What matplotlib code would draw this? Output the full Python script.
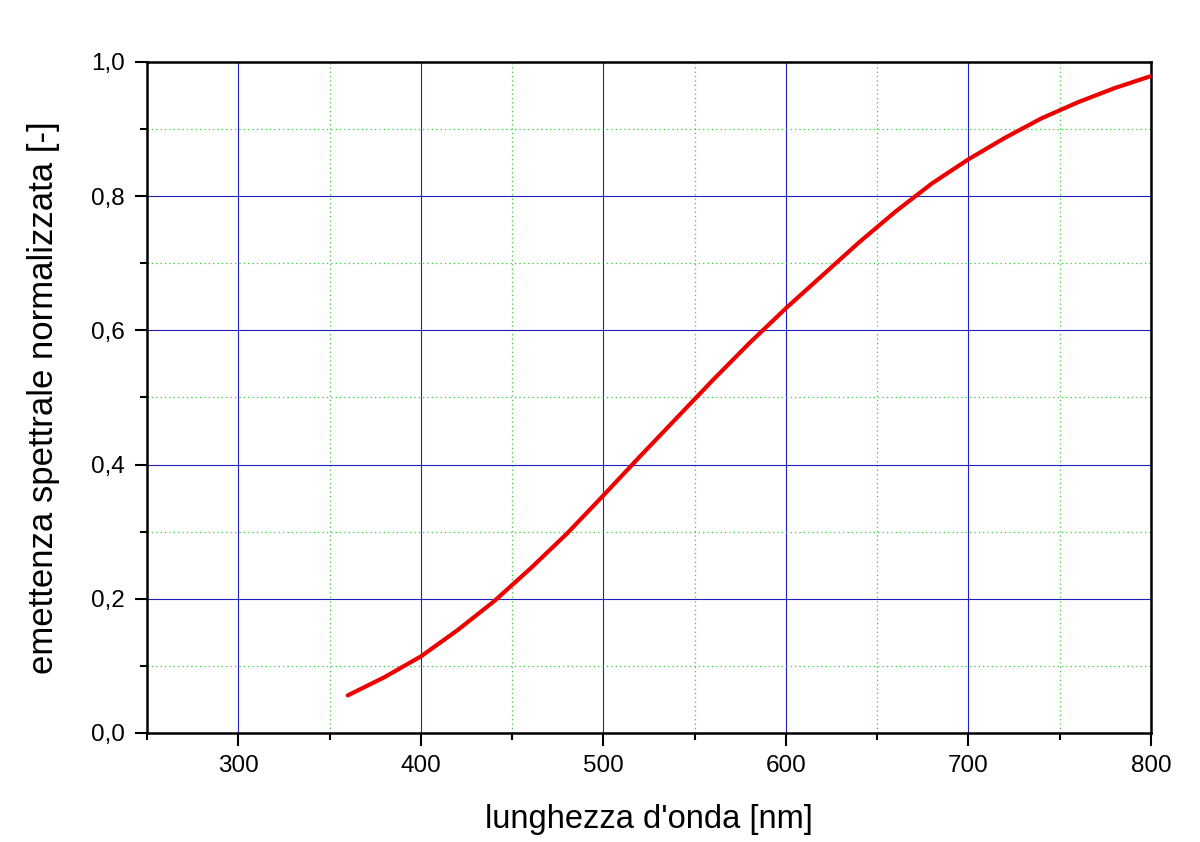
import matplotlib
matplotlib.use('Agg')
import matplotlib.pyplot as plt
from matplotlib.ticker import MultipleLocator, FuncFormatter

# Normalised spectral emittance vs wavelength
wavelength = [360, 380, 400, 420, 440, 460, 480, 500, 520, 540, 560, 580,
              600, 620, 640, 660, 680, 700, 720, 740, 760, 780, 800]
emittance = [0.056, 0.083, 0.114, 0.153, 0.196, 0.245, 0.297, 0.354, 0.412,
             0.469, 0.526, 0.581, 0.633, 0.682, 0.731, 0.777, 0.819, 0.855,
             0.887, 0.916, 0.940, 0.961, 0.979]

plt.rcParams['font.family'] = ['Liberation Sans', 'DejaVu Sans']

fig = plt.figure(figsize=(12, 8.42), dpi=100)
ax = fig.add_axes([0.1225, 0.1295, 0.8367, 0.7969])

ax.plot(wavelength, emittance, color='#ee0000', linewidth=3.0,
        solid_capstyle='round', solid_joinstyle='round', zorder=3)

ax.set_xlim(250, 800)
ax.set_ylim(0, 1.0)
ax.xaxis.set_major_locator(MultipleLocator(100))
ax.xaxis.set_minor_locator(MultipleLocator(50))
ax.yaxis.set_major_locator(MultipleLocator(0.2))
ax.yaxis.set_minor_locator(MultipleLocator(0.1))
ax.yaxis.set_major_formatter(FuncFormatter(lambda v, p: f'{v:.1f}'.replace('.', ',')))
ax.xaxis.set_major_formatter(FuncFormatter(lambda v, p: '' if v < 300 else f'{int(v)}'))

ax.grid(which='major', color='#2020c0', linestyle='-', linewidth=0.8)
ax.grid(which='minor', color='#33cc33', linestyle=(0, (1, 2.5)), linewidth=0.9)
ax.set_axisbelow(True)

for s in ax.spines.values():
    s.set_linewidth(1.8)
    s.set_color('black')

ax.tick_params(which='major', direction='out', length=9, width=1.5, labelsize=17.5, pad=7)
ax.tick_params(which='minor', direction='out', length=5, width=1.5)
ax.tick_params(top=False, right=False, which='both')

ax.set_xlabel("lunghezza d'onda [nm]", fontsize=23.5, labelpad=19)
ax.set_ylabel('emettenza spettrale normalizzata [-]', fontsize=25, labelpad=22)

plt.savefig('out.png', dpi=100)
